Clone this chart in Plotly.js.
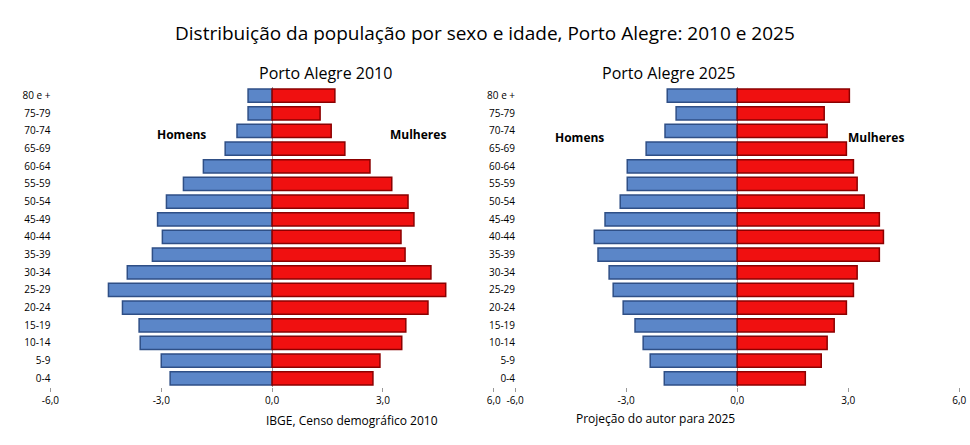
<!DOCTYPE html>
<html><head><meta charset="utf-8">
<script src="https://cdn.plot.ly/plotly-3.0.1.min.js"></script>
<style>body{margin:0}</style></head>
<body><div id="c" style="width:970px;height:445px"></div>
<script>
const agesLabel = ["0-4","5-9","10-14","15-19","20-24","25-29","30-34","35-39","40-44","45-49","50-54","55-59","60-64","65-69","70-74","75-79","80 e +"];
const homens2010 = [2.76,3.0,3.57,3.6,4.05,4.43,3.92,3.24,2.97,3.1,2.86,2.4,1.86,1.27,0.95,0.65,0.65];
const mulheres2010 = [2.73,2.92,3.51,3.62,4.22,4.7,4.3,3.6,3.49,3.84,3.68,3.24,2.65,1.97,1.6,1.3,1.7];
const homens2025 = [1.97,2.35,2.54,2.76,3.08,3.35,3.46,3.76,3.86,3.57,3.16,2.97,2.97,2.46,1.95,1.65,1.89];
const mulheres2025 = [1.84,2.27,2.43,2.62,2.95,3.14,3.24,3.84,3.95,3.84,3.43,3.24,3.14,2.95,2.43,2.35,3.03];
const tickVals = [-6,-3,0,3,6];
const tickText = ["-6,0","-3,0","0,0","3,0","6,0"];
const font = "Open Sans, Liberation Sans";

const blue = {color:"#5b86c8", line:{color:"#2f4f86", width:1.5}};
const red = {color:"#f01010", line:{color:"#8b0000", width:1.5}};
function bar(vals, neg, mk, xa, ya){
  return {type:"bar", orientation:"h", y:agesLabel, x: vals.map(v=>neg?-v:v), marker:mk, xaxis:xa, yaxis:ya, showlegend:false};
}
const data = [
  bar(homens2010,true,blue,"x","y"), bar(mulheres2010,false,red,"x","y"),
  bar(homens2025,true,blue,"x2","y2"), bar(mulheres2025,false,red,"x2","y2")
];
const xbase = {range:[-6,6], tickvals:tickVals, ticktext:tickText, showgrid:false, zeroline:true, zerolinecolor:"#999", zerolinewidth:1,
  ticks:"outside", ticklen:4, tickcolor:"#999", showline:false, tickfont:{family:font, size:10, color:"#000"}};
const ybase = {type:"category", showgrid:false, ticks:"", tickfont:{family:font, size:10, color:"#000"}, domain:[0.13,0.805]};
const layout = {
  width:970, height:445, margin:{l:0,r:0,t:0,b:0}, paper_bgcolor:"#fff", plot_bgcolor:"#fff",
  barmode:"overlay", bargap:0.25,
  xaxis:Object.assign({domain:[0.052,0.509], anchor:"y"}, xbase),
  xaxis2:Object.assign({domain:[0.531,0.989], anchor:"y2"}, xbase),
  yaxis:Object.assign({anchor:"free", position:0.052}, ybase),
  yaxis2:Object.assign({anchor:"free", position:0.531}, ybase),
  annotations:[
    {text:"Distribuição da população por sexo e idade, Porto Alegre: 2010 e 2025", x:0.5, y:1-18/445, size:19},
    {text:"Porto Alegre 2010", x:257/970, y:1-60/445, size:16},
    {text:"Porto Alegre 2025", x:737/970, y:1-60/445, size:16},
    {text:"<b>Homens</b>", x:155/970, y:1-124/445, size:12},
    {text:"<b>Mulheres</b>", x:418/970, y:1-124/445, size:12},
    {text:"<b>Homens</b>", x:579/970, y:1-127/445, size:12},
    {text:"<b>Mulheres</b>", x:906/970, y:1-127/445, size:12},
    {text:"IBGE, Censo demográfico 2010", x:264/970, y:1-431/445, size:12},
    {text:"Projeção do autor para 2025", x:737/970, y:1-429/445, size:12}
  ].map(a=>({text:a.text, x:a.x, y:a.y, xref:"paper", yref:"paper", showarrow:false, font:{family:font, size:a.size, color:"#000"}}))
};
Plotly.newPlot("c", data, layout, {displayModeBar:false, staticPlot:true});
</script></body></html>
